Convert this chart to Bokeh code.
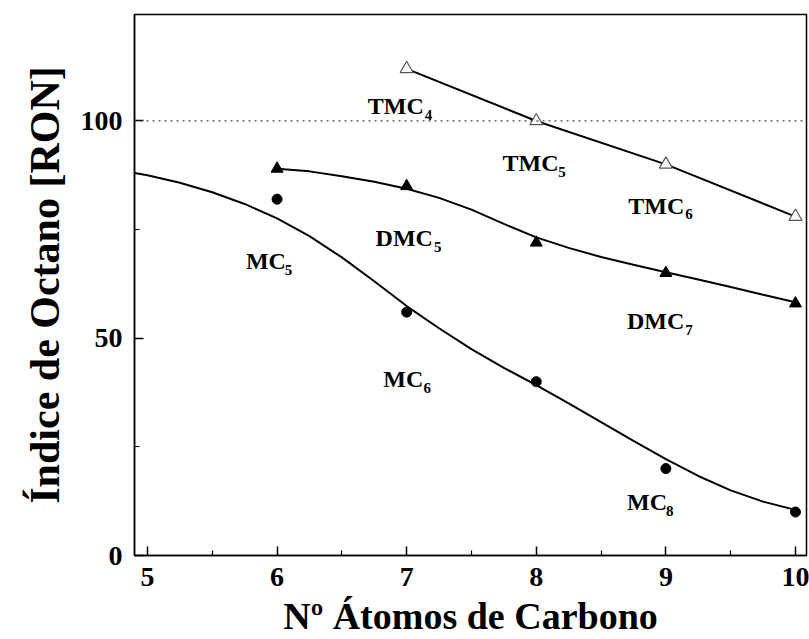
from bokeh.plotting import figure
from bokeh.models import Range1d, Span, FixedTicker
from bokeh.core.properties import value
from bokeh.embed import file_html
from bokeh.resources import INLINE

# ---- data ----
carbons = [6, 7, 8, 9, 10]
mc_ron = [82, 56, 40, 20, 10]
dmc_ron = [89, 85, 72, 65, 58]
tmc_carbons = [7, 8, 9, 10]
tmc_ron = [112, 100, 90, 78]

# fitted curves
mc_fit_x = [4.9, 5.0, 5.25, 5.5, 5.75, 6.0, 6.25, 6.5, 6.75, 7.0, 7.25, 7.5, 7.75,
            8.0, 8.25, 8.5, 8.75, 9.0, 9.25, 9.5, 9.75, 10.0]
mc_fit_y = [88.0, 87.5, 85.8, 83.6, 80.9, 77.6, 73.5, 68.6, 63.1, 57.4, 52.3, 47.5, 43.2,
            39.2, 35.0, 30.7, 26.4, 22.2, 18.3, 15.0, 12.4, 10.5]
dmc_fit_x = [6.0, 6.25, 6.5, 6.75, 7.0, 7.25, 7.5, 7.75, 8.0, 8.25, 8.5, 8.75,
             9.0, 9.25, 9.5, 9.75, 10.0]
dmc_fit_y = [89.0, 88.4, 87.3, 86.0, 84.4, 82.3, 79.6, 76.3, 73.2, 70.8, 68.7, 66.9,
             65.2, 63.5, 61.8, 60.0, 58.3]

reference_ron = 100

x_ticks = [5, 6, 7, 8, 9, 10]
y_ticks = [0, 50, 100]

label_main = ["TMC", "TMC", "TMC", "DMC", "DMC", "MC", "MC", "MC"]
label_sub = ["4", "5", "6", "5", "7", "5", "6", "8"]

# label placement (annotation positions)
main_x = [6.70, 7.74, 8.71, 6.76, 8.70, 5.76, 6.82, 8.70]
main_y = [103.4, 90.3, 80.5, 73.1, 54.0, 67.8, 40.7, 12.2]
sub_x = [7.14, 8.17, 9.15, 7.21, 9.15, 6.06, 7.13, 9.00]
sub_y = [101.4, 88.3, 78.5, 71.1, 51.8, 65.8, 38.6, 10.2]

FONT = "Liberation Serif"

p = figure(width=809, height=639, output_backend="svg", toolbar_location=None,
           x_range=Range1d(4.9, 10.085), y_range=Range1d(0, 124.5),
           min_border_left=134, min_border_right=3, min_border_top=14,
           min_border_bottom=84)
p.xgrid.visible = False
p.ygrid.visible = False
p.outline_line_color = "black"
p.outline_line_width = 1.5
p.background_fill_color = "white"
p.border_fill_color = "white"

p.xaxis.ticker = FixedTicker(ticks=x_ticks, minor_ticks=[5.5, 6.5, 7.5, 8.5, 9.5])
p.yaxis.ticker = FixedTicker(ticks=y_ticks, minor_ticks=[25, 75])
for ax in (p.xaxis[0], p.yaxis[0]):
    ax.axis_line_color = "black"
    ax.axis_line_width = 1.5
    ax.major_tick_in = 9
    ax.major_tick_out = 0
    ax.minor_tick_in = 5
    ax.minor_tick_out = 0
    ax.major_tick_line_width = 1.5
    ax.minor_tick_line_width = 1.2
    ax.major_tick_line_color = "black"
    ax.minor_tick_line_color = "black"
    ax.major_label_text_font = FONT
    ax.major_label_text_font_style = "bold"
    ax.major_label_text_font_size = "28px"
    ax.major_label_text_color = "black"
    ax.axis_label_text_font = FONT
    ax.axis_label_text_font_style = "bold"
    ax.axis_label_text_color = "black"

p.xaxis.axis_label_text_font_size = "38px"
p.yaxis.axis_label_text_font_size = "42px"
p.xaxis.axis_label = "Nº Átomos de Carbono"
p.yaxis.axis_label = "Índice de Octano [RON]"
p.xaxis.major_label_standoff = 12
p.yaxis.major_label_standoff = 12
p.xaxis.axis_label_standoff = 6
p.yaxis.axis_label_standoff = 10

p.add_layout(Span(location=reference_ron, dimension="width", line_color="#444444",
                  line_width=1.3, line_dash="2 4"))

p.line(mc_fit_x, mc_fit_y, line_color="black", line_width=2)
p.line(dmc_fit_x, dmc_fit_y, line_color="black", line_width=2)
p.line(tmc_carbons, tmc_ron, line_color="black", line_width=2)

p.scatter(carbons, mc_ron, marker="circle", size=10, fill_color="black", line_color="black")
p.scatter(carbons, dmc_ron, marker="triangle", size=12, fill_color="black", line_color="black")
p.scatter(tmc_carbons, tmc_ron, marker="triangle", size=13, fill_color="white",
          line_color="#555555", line_width=1.2)

p.text(x=main_x, y=main_y, text=label_main, text_font=value(FONT), text_font_style="bold",
       text_font_size="24px", text_baseline="alphabetic", text_align="left", text_color="black")
p.text(x=sub_x, y=sub_y, text=label_sub, text_font=value(FONT), text_font_style="bold",
       text_font_size="15px", text_baseline="alphabetic", text_align="left", text_color="black")

open("out.html", "w").write(file_html(p, INLINE))
